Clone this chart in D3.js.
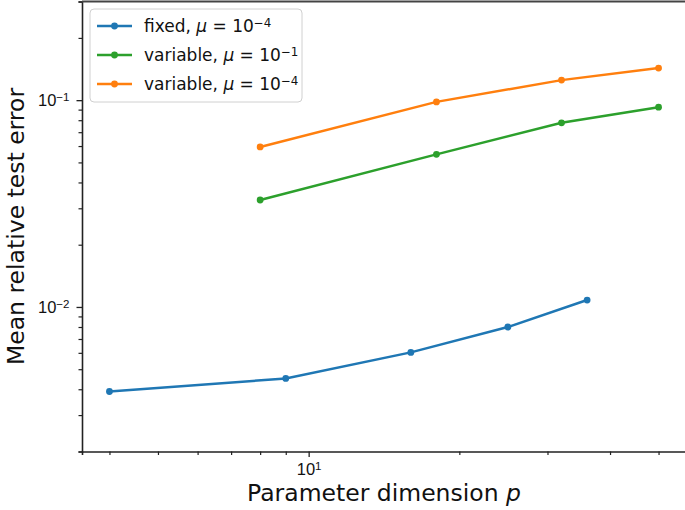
<!DOCTYPE html>
<html>
<head>
<meta charset="utf-8">
<script src="https://cdn.jsdelivr.net/npm/d3@7"></script>
<style>
  body { margin: 0; background: #fff; }
  svg { font-family: "DejaVu Sans", sans-serif; }
</style>
</head>
<body>
<svg id="chart" width="685" height="510"></svg>
<script>
// data
const pFixed = [4, 9, 16, 25, 36];
const errFixed = [0.0039, 0.00451, 0.00603, 0.0080, 0.0108];
const pVariable = [8, 18, 32, 50];
const errVar1 = [0.0329, 0.0547, 0.0777, 0.0925];
const errVar4 = [0.0594, 0.0981, 0.125, 0.143];

const seriesNames = ['fixed', 'variable', 'variable'];
const seriesMuExp = ['\u22124', '\u22121', '\u22124'];
const colors = ['#1f77b4', '#2ca02c', '#ff7f0e'];

const xMinorTicks = [4, 5, 6, 7, 8, 9, 20, 30, 40, 50];
const xMajorTicks = [10];
const yMajorTicks = [1e-2, 1e-1];
const yMinorTicks = [2e-3, 3e-3, 4e-3, 5e-3, 6e-3, 7e-3, 8e-3, 9e-3,
                     2e-2, 3e-2, 4e-2, 5e-2, 6e-2, 7e-2, 8e-2, 9e-2, 2e-1, 3e-1];
const yLimits = [2e-3, 3e-1];

const svg = d3.select('#chart');
const plotLeft = 82, plotRight = 686, plotTop = 1.5, plotBottom = 451.5;
const tickFont = 16.5, legendFont = 17, labelFont = 23.5;

// matplotlib-like 5% margin on a log x axis
const lx0 = Math.log10(d3.min(pFixed)), lx1 = Math.log10(d3.max(pVariable));
const pad = (lx1 - lx0) * 0.05;
const x = d3.scaleLog().domain([10 ** (lx0 - pad), 10 ** (lx1 + pad)]).range([plotLeft, plotRight]);
const y = d3.scaleLog().domain(yLimits).range([plotBottom, plotTop]);

// superscript label helper
function powLabel(sel, exp) {
    sel.text(null);
    sel.append('tspan').text('10');
    sel.append('tspan').attr('dy', '-0.45em').attr('font-size', '0.7em').text(exp);
}

// x axis
const gx = svg.append('g').attr('transform', `translate(0,${plotBottom})`);
gx.call(d3.axisBottom(x).tickValues(xMinorTicks).tickSize(3.5).tickFormat(''));
gx.selectAll('.tick line').attr('stroke', '#222').attr('stroke-width', 1.2);
gx.select('.domain').attr('stroke', '#222').attr('stroke-width', 1.6);
const gxMaj = svg.append('g').attr('transform', `translate(0,${plotBottom})`);
gxMaj.call(d3.axisBottom(x).tickValues(xMajorTicks).tickSize(5.5).tickPadding(6));
gxMaj.select('.domain').remove();
gxMaj.selectAll('.tick line').attr('stroke', '#222').attr('stroke-width', 1.3);
gxMaj.selectAll('.tick text').attr('font-size', tickFont).attr('fill', '#111')
    .each(function () { powLabel(d3.select(this), '1'); });

// y axis
const gy = svg.append('g').attr('transform', `translate(${plotLeft},0)`);
gy.call(d3.axisLeft(y).tickValues(yMinorTicks).tickSize(3.5).tickFormat(''));
gy.selectAll('.tick line').attr('stroke', '#222').attr('stroke-width', 1.2);
gy.select('.domain').attr('stroke', '#222').attr('stroke-width', 1.6);
const gyMaj = svg.append('g').attr('transform', `translate(${plotLeft},0)`);
gyMaj.call(d3.axisLeft(y).tickValues(yMajorTicks).tickSize(5.5).tickPadding(7));
gyMaj.select('.domain').remove();
gyMaj.selectAll('.tick line').attr('stroke', '#222').attr('stroke-width', 1.3);
gyMaj.selectAll('.tick text').attr('font-size', tickFont).attr('fill', '#111')
    .each(function (d) { powLabel(d3.select(this), '\u2212' + Math.round(-Math.log10(d))); });

// top spine
svg.append('line').attr('x1', plotLeft).attr('x2', plotRight).attr('y1', plotTop).attr('y2', plotTop)
    .attr('stroke', '#444').attr('stroke-width', 2);

// series
const series = [
    { p: pFixed, e: errFixed },
    { p: pVariable, e: errVar1 },
    { p: pVariable, e: errVar4 }
];
const line = d3.line().x(d => x(d[0])).y(d => y(d[1]));
series.forEach((s, i) => {
    const pts = s.p.map((p, j) => [p, s.e[j]]);
    svg.append('path').datum(pts).attr('d', line)
        .attr('fill', 'none').attr('stroke', colors[i]).attr('stroke-width', 2.5);
    svg.selectAll(null).data(pts).enter().append('circle')
        .attr('cx', d => x(d[0])).attr('cy', d => y(d[1])).attr('r', 3.4)
        .attr('fill', colors[i]);
});

// axis labels
svg.append('text').attr('x', (plotLeft + plotRight) / 2).attr('y', 501)
    .attr('text-anchor', 'middle').attr('font-size', labelFont).attr('fill', '#111')
    .call(t => {
        t.append('tspan').text('Parameter dimension ');
        t.append('tspan').attr('font-style', 'italic').text('p');
    });
svg.append('text')
    .attr('transform', `translate(24,${(plotTop + plotBottom) / 2}) rotate(-90)`)
    .attr('text-anchor', 'middle').attr('font-size', labelFont).attr('fill', '#111')
    .text('Mean relative test error');

// legend
const leg = svg.append('g');
leg.append('rect').attr('x', 90).attr('y', 9).attr('width', 212).attr('height', 93)
    .attr('rx', 4).attr('fill', 'white').attr('fill-opacity', 0.8)
    .attr('stroke', '#d0d0d0').attr('stroke-width', 1);
seriesNames.forEach((name, i) => {
    const cy = 26 + i * 29;
    leg.append('line').attr('x1', 97).attr('x2', 132).attr('y1', cy).attr('y2', cy)
        .attr('stroke', colors[i]).attr('stroke-width', 2.5);
    leg.append('circle').attr('cx', 114.5).attr('cy', cy).attr('r', 3.4).attr('fill', colors[i]);
    const t = leg.append('text').attr('x', 144).attr('y', cy + 6)
        .attr('font-size', legendFont).attr('fill', '#111');
    t.append('tspan').text(name + ', ');
    t.append('tspan').attr('font-style', 'italic').text('\u03bc');
    t.append('tspan').text(' = 10');
    t.append('tspan').attr('dy', '-0.45em').attr('font-size', '0.7em').text(seriesMuExp[i]);
});
</script>
</body>
</html>
